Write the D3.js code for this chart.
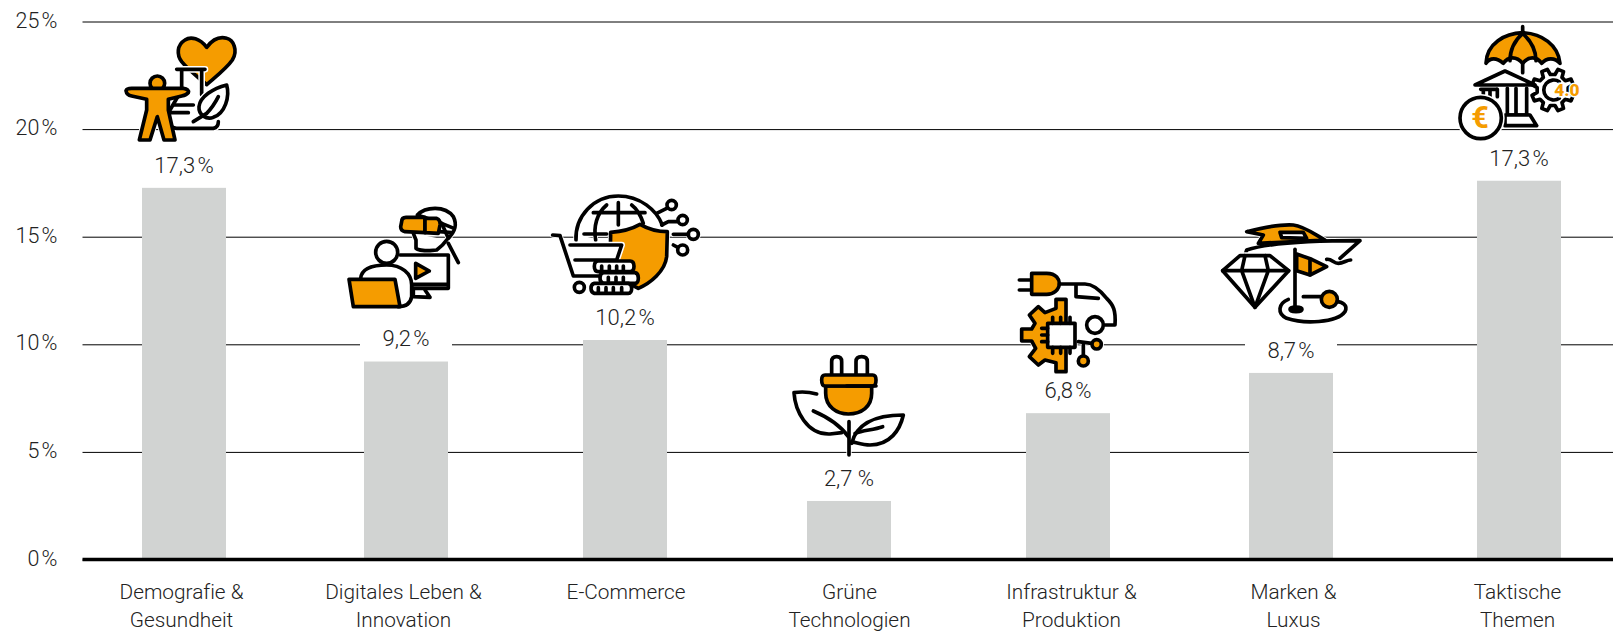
<!DOCTYPE html>
<html lang="de"><head><meta charset="utf-8">
<script src="https://cdn.jsdelivr.net/npm/d3@7/dist/d3.min.js"></script>
<style>
html,body{margin:0;padding:0;background:#fff}
svg{display:block}
text{font-family:Roboto,"Open Sans",sans-serif;font-weight:300;fill:#222;font-variant-ligatures:none}
</style></head><body><svg id="c" width="1613" height="632"></svg>
<script>
const categories=["Demografie & Gesundheit","Digitales Leben & Innovation","E-Commerce","Grüne Technologien","Infrastruktur & Produktion","Marken & Luxus","Taktische Themen"];
const categoryLines=[["Demografie &","Gesundheit"],["Digitales Leben &","Innovation"],["E-Commerce"],["Grüne","Technologien"],["Infrastruktur &","Produktion"],["Marken &","Luxus"],["Taktische","Themen"]];
const barValues=[17.27,9.2,10.2,2.72,6.8,8.67,17.6];
const valueLabels=["17,3\u200a%","9,2\u200a%","10,2\u200a%","2,7 %","6,8\u200a%","8,7\u200a%","17,3\u200a%"];
const tickValues=[0,5,10,15,20,25];

const W=1613,H=632,left=82.5,zeroY=559.5,topY=21.5;
const slotCentres=[184,406,625,849,1068,1291,1519],barW=84;
const captionCentres=[181,403,625.5,849,1071,1293,1517];
const ORANGE="#f59c00";
const svg=d3.select("#c");
const x=d3.scaleOrdinal().domain(categories).range(slotCentres);
const xCaption=d3.scaleOrdinal().domain(categories).range(captionCentres);
const y=d3.scaleLinear().domain([0,25]).range([zeroY,topY]);

// gridlines + y labels
const gAxis=svg.append("g").attr("transform",`translate(${left},0)`)
 .call(d3.axisLeft(y).tickValues(tickValues).tickSize(-(W-left)).tickPadding(25).tickFormat(d=>d+"\u200a%"));
gAxis.select(".domain").remove();
gAxis.selectAll(".tick line").attr("stroke","#000").attr("stroke-width",1);
gAxis.selectAll(".tick text").attr("font-size",21.5).attr("dy","0.26em").style("font-family","Roboto");

// bars
svg.append("g").selectAll("rect").data(categories).join("rect")
 .attr("x",d=>x(d)-barW/2).attr("width",barW)
 .attr("y",(d,i)=>y(barValues[i])).attr("height",(d,i)=>y(0)-y(barValues[i]))
 .attr("fill","#d1d3d2");

// baseline
svg.append("line").attr("x1",left).attr("x2",W).attr("y1",y(0)).attr("y2",y(0)).attr("stroke","#000").attr("stroke-width",3.6);

// x labels
const gx=svg.append("g").attr("transform",`translate(0,${zeroY})`).call(d3.axisBottom(xCaption).tickSize(0).tickFormat(""));
gx.select(".domain").remove();
gx.selectAll(".tick").each(function(d,i){
 const t=d3.select(this).select("text").attr("font-size",20.8).attr("y",0).attr("dy",null).style("font-family","Roboto").text(null);
 categoryLines[i].forEach((l,k)=>t.append("tspan").attr("x",0).attr("y",39.5+k*28).text(l));
});

// value labels with white plate
const labelOffset=23;
const lab=svg.append("g").selectAll("g").data(categories).join("g")
 .attr("transform",(d,i)=>`translate(${x(d)},${y(barValues[i])-labelOffset})`);
lab.append("rect").attr("x",-46).attr("width",92).attr("y",-15).attr("height",30).attr("fill","#fff");
lab.append("text").attr("text-anchor","middle").attr("dy","0.36em").attr("font-size",22).text((d,i)=>valueLabels[i]);

// ---- decorative icons (paths in 3x local units) ----
const circ=(cx,cy,r)=>`M${cx-r},${cy}a${r},${r} 0 1,0 ${2*r},0a${r},${r} 0 1,0 ${-2*r},0Z`;
function gear(cx,cy,ro,ri,n){let p=[];for(let i=0;i<n;i++){const a=i/n*2*Math.PI+Math.PI/n,s=Math.PI/n;
 [[ri,a-s*.62],[ro,a-s*.36],[ro,a+s*.36],[ri,a+s*.62]].forEach(([r,t])=>p.push([cx+r*Math.cos(t),cy+r*Math.sin(t)]));}
 return "M"+p.map(q=>q[0].toFixed(1)+","+q[1].toFixed(1)).join("L")+"Z";}
const O=ORANGE,Wh="#fff";
const icons=[
 {ox:0,oy:0,s:[
  {d:"M620,142C600,115 572,108 555,120C530,135 530,165 545,185C565,210 595,232 620,254C645,232 680,205 697,180C715,150 700,120 680,115C655,108 635,122 620,142Z",f:O},
  {d:"M530,208L615,208M545,208L545,270L510,330C500,360 505,385 530,385L640,385Q655,382 655,365M605,208L605,285",f:Wh,h:1},
  {d:"M520,315L580,315M510,338L565,338"},
  {d:"M680,255C640,265 600,290 597,320C595,345 620,360 640,352C675,340 690,290 680,255Z",f:Wh,h:1},
  {d:"M580,365L620,340C640,320 650,300 655,290"},
  {d:circ(472,250,22),f:O,h:1},
  {d:"M378,272Q380,265 395,265L550,265Q568,268 565,278Q560,285 545,288L505,298L505,330L525,420L492,420L472,350L450,420L418,420L440,330L440,298L395,288Q380,285 378,272Z",f:O}
 ]},
 {ox:330,oy:190,s:[
  {d:"M262,75C285,50 345,45 370,80C385,110 370,130 355,145L335,100Z",f:Wh},
  {d:"M335,100L372,115M330,125L365,128"},
  {d:"M250,130L258,150L258,175Q265,182 300,182L320,180Q340,165 350,150"},
  {d:"M355,160L385,218"},
  {d:"M215,95Q215,82 228,82L285,82L285,128L225,125Q212,122 212,110Z",f:O},
  {d:"M285,85L320,85Q332,90 330,105L325,130L285,128Z",f:O},
  {d:"M210,195L355,195L355,295L245,295M245,283L355,283",f:Wh},
  {d:"M250,295L250,320L300,322L285,300"},
  {d:"M257,220L298,243L257,265Z",f:O},
  {d:circ(170,187,33),f:Wh},
  {d:"M92,265C95,235 130,225 170,225C215,225 245,250 245,285L245,320Q240,350 205,350",f:Wh},
  {d:"M57,268L195,268L210,350L70,350Z",f:O}
 ]},
 {ox:330,oy:190,s:[
  {d:"M738,150C735,80 790,18 865,18C930,18 980,60 997,105"},
  {d:"M830,45C800,70 790,110 797,150M865,38L865,105M905,45C925,60 935,85 940,100M790,68L945,68M762,132L830,132"},
  {d:"M930,103C960,120 990,125 1012,125L1010,200C1005,245 960,280 925,295L840,250L842,127C870,125 900,120 930,103Z",f:O},
  {d:"M668,135L690,137L730,258L810,258"},
  {d:"M720,165L875,165L860,210L735,210",f:Wh,h:1},
  {d:circ(748,292,15),f:Wh},
  {d:"M805,213L900,213Q912,213 912,229Q912,245 900,245L805,245Q793,245 793,229Q793,213 805,213Z",f:Wh},
  {d:"M820,248L915,248Q925,250 925,264Q925,280 915,280L820,280Q810,278 810,264Q810,250 820,248Z",f:Wh},
  {d:"M793,280L895,280Q905,282 905,295Q905,310 895,310L793,310Q783,308 783,295Q783,282 793,280Z",f:Wh},
  {d:"M815,228L815,240M838,228L838,240M860,228L860,240M880,228L880,240M835,262L835,274M858,262L858,274M880,262L880,274M805,293L805,305M828,293L828,305M850,293L850,305M875,293L875,305"},
  {d:circ(1025,45,14),f:Wh},{d:circ(1058,90,14),f:Wh},{d:circ(1090,133,15),f:Wh},{d:circ(1058,180,15),f:Wh},
  {d:"M1010,55L980,70M1042,95L1015,95L995,105M1075,133L1030,133M1043,172L1030,165"}
 ]},
 {ox:770,oy:260,s:[
  {d:"M185,345L185,305Q185,290 200,290Q215,290 215,305L215,345",f:Wh},
  {d:"M258,345L258,305Q258,290 275,290Q292,290 292,305L292,345",f:Wh},
  {d:"M167,378L167,400C167,440 200,462 235,462C275,462 305,440 305,400L305,378Z",f:O},
  {d:"M165,345L308,345Q318,345 318,360Q318,378 308,378L165,378Q155,378 155,360Q155,345 165,345Z",f:O},
  {d:"M230,378L318,378"},
  {d:"M140,402C115,395 90,395 72,398C75,450 110,525 180,522L215,518"},
  {d:"M130,453C170,470 210,495 235,530"},
  {d:"M237,485L237,585"},
  {d:"M245,550C255,510 290,465 400,465C390,510 360,555 300,555C280,555 260,548 245,545"},
  {d:"M255,520C280,510 310,510 338,500"}
 ]},
 {ox:770,oy:260,s:[
  {d:"M748,60L785,60M748,90L785,90"},
  {d:"M785,40L830,40C860,40 868,60 868,70C868,90 850,103 830,103L785,103Z",f:O},
  {d:"M868,72L945,72C970,72 990,90 1010,115C1030,135 1038,150 1035,195L1005,195"},
  {d:"M918,75L918,110L985,115"},
  {d:circ(975,195,25),f:Wh},
  {d:"M888,118L858,118L858,145L825,158L805,140L778,165L795,190L785,207L755,207L755,243L785,243L797,265L778,290L805,315L825,300L858,308L858,335L888,335Z",f:O},
  {d:"M833,190L915,190L915,262L833,262Z",f:Wh},
  {d:"M848,172L848,190M872,172L872,190M900,172L900,190M848,262L848,280M872,262L872,280M900,262L900,280M815,205L833,205M815,225L833,225M815,245L833,245"},
  {d:"M925,245L965,250M940,255L940,290"},
  {d:circ(980,253,14),f:O},{d:circ(940,303,15),f:O}
 ]},
 {ox:1200,oy:200,s:[
  {d:"M140,95C180,85 240,72 280,75C310,78 340,100 375,120L175,130L190,105Z",f:O},
  {d:"M240,97L310,97L320,115L245,113Z",f:Wh},
  {d:"M135,165L140,150C200,130 300,122 480,122L420,175",f:Wh},
  {d:"M380,178C395,175 400,190 415,190C430,190 440,180 452,180"},
  {d:"M68,212L120,167L210,167L266,212L165,322Z",f:Wh,h:1},
  {d:"M68,212L266,212M135,167L125,212L165,322L205,212L195,167"},
  {d:"M310,290L365,290M265,298C235,310 230,340 260,355C310,372 410,370 435,335C445,315 425,305 410,305"},
  {d:"M285,148L285,320"},
  {d:"M290,162L335,178L380,200L330,225L290,212Z",f:O},
  {d:"M330,178L330,225"},
  {d:circ(388,298,24),f:O},
  {d:"M270,328a18,7 0 1,0 36,0a18,7 0 1,0 -36,0Z",f:"#000"}
 ]},
 {ox:1380,oy:0,s:[
  {d:"M428,80L428,98"},
  {d:"M318,190C320,130 375,100 428,98C485,100 535,135 540,190C525,172 500,172 485,190C470,168 445,168 428,190C410,168 385,168 370,190C350,172 330,172 318,190Z",f:O},
  {d:"M428,100C400,125 390,155 390,182M428,100C455,125 468,155 468,182M428,190L428,218"},
  {d:gear(518,270,64,47,8),f:Wh},
  {d:"M538,245A30,30 0 1,0 538,295"},
  {d:"M285,255L375,213L465,255Z",f:Wh},
  {d:"M302,268L350,268M310,268L310,285M330,268L330,290M352,268L352,290",f:Wh},
  {d:"M382,265L382,345M408,265L408,345M440,265L440,345M382,345L445,345",f:Wh},
  {d:"M375,345L450,345L470,377L375,377Z",f:Wh},
  {d:circ(302,354,62),f:Wh,h:1}
 ]}
];
const gIcons=svg.append("g");
icons.forEach(ic=>{
 const g=gIcons.append("g").attr("transform",`translate(${ic.ox},${ic.oy}) scale(${1/3})`)
  .attr("stroke-linecap","round").attr("stroke-linejoin","round");
 g.append("g").selectAll("path").data(ic.s).join("path").attr("d",s=>s.d).attr("fill","#fff").attr("stroke","#fff").attr("stroke-width",16);
 ic.s.forEach(s=>{
  if(s.h) g.append("path").attr("d",s.d).attr("fill","#fff").attr("stroke","#fff").attr("stroke-width",20);
  g.append("path").attr("d",s.d).attr("fill",s.f||"none").attr("stroke","#000").attr("stroke-width",11);
 });
});
const gi=gIcons.append("g").attr("transform",`translate(1380,0) scale(${1/3})`);
gi.append("text").attr("x",300).attr("y",385).attr("text-anchor","middle").attr("font-size",92).style("font-weight",700).style("fill",O).text("€");
gi.append("text").attr("x",561).attr("y",288).attr("text-anchor","middle").attr("font-size",52).style("font-weight",900).style("fill","#fff")
 .attr("stroke","#fff").attr("stroke-width",9).text("4.0");
gi.append("text").attr("x",561).attr("y",288).attr("text-anchor","middle").attr("font-size",52).style("font-weight",900).style("fill",O).text("4.0");
</script></body></html>
